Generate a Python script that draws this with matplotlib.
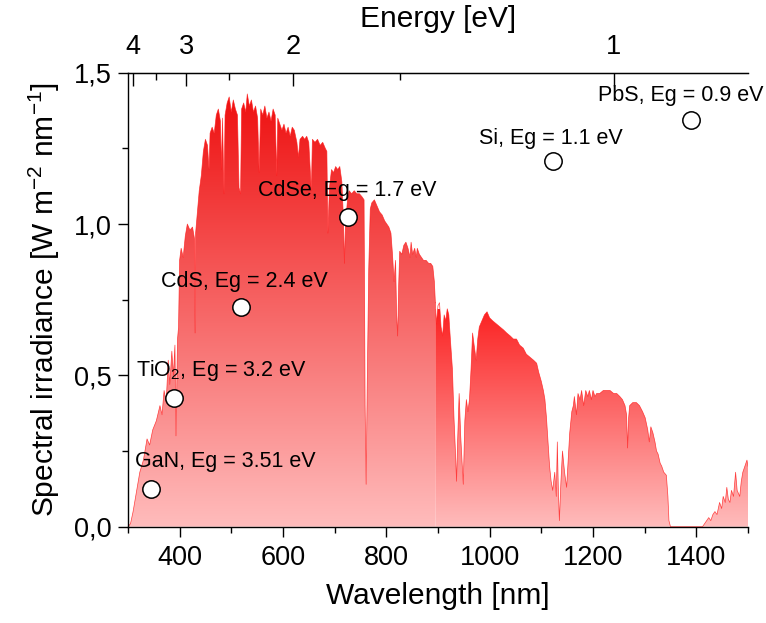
import numpy as np
import matplotlib
matplotlib.use("Agg")
import matplotlib.pyplot as plt
from matplotlib.colors import LinearSegmentedColormap
from matplotlib.patches import Polygon
from matplotlib.ticker import MultipleLocator, FuncFormatter

plt.rcParams['font.family'] = ['Liberation Sans', 'DejaVu Sans']
plt.rcParams['mathtext.default'] = 'regular'

# solar spectrum, UV/visible part (nm, W m-2 nm-1)
vis_nm = [300, 305, 310, 317, 323, 330, 337, 342, 348, 355, 362, 366, 370, 374, 378,
          381, 385, 388, 391, 393, 396, 398, 400, 403, 407, 411, 415, 420, 425, 429,
          430, 431, 435, 438, 442, 446, 450, 454, 457, 459, 463, 467, 471, 475, 479,
          481, 483, 486, 488, 492, 496, 500, 504, 508, 512, 515, 518, 520, 524, 528,
          531, 535, 539, 543, 547, 551, 554, 557, 561, 565, 569, 573, 577, 581, 585,
          588, 590, 594, 598, 602, 606, 610, 614, 618, 622, 627, 630, 633, 638, 642,
          646, 650, 655, 657, 662, 667, 672, 677, 682, 685, 687, 690, 694, 698, 702,
          706, 710, 714, 717, 719, 721, 725, 728, 733, 738, 743, 748, 753, 757, 759,
          761, 763, 766, 769, 772, 777, 782, 787, 792, 797, 801, 805, 809, 812, 815,
          818, 820, 822, 824, 826, 830, 834, 838, 842, 846, 848, 851, 855, 858, 860,
          864, 868, 872, 877, 882, 886, 890, 893, 895]
vis_irr = [0.0, 0.01, 0.05, 0.12, 0.18, 0.22, 0.29, 0.27, 0.32, 0.35, 0.40, 0.37, 0.45, 0.41, 0.55,
           0.47, 0.58, 0.50, 0.60, 0.30, 0.62, 0.66, 0.88, 0.92, 0.89, 0.96, 1.00, 0.98, 0.99, 0.95,
           0.64, 0.97, 1.05, 1.11, 1.16, 1.24, 1.28, 1.26, 1.18, 1.30, 1.32, 1.30, 1.36, 1.38, 1.34,
           1.18, 1.35, 1.10, 1.36, 1.40, 1.42, 1.37, 1.41, 1.38, 1.36, 1.12, 1.10, 1.38, 1.40, 1.37,
           1.43, 1.39, 1.41, 1.37, 1.39, 1.35, 1.17, 1.38, 1.36, 1.39, 1.35, 1.37, 1.34, 1.38, 1.36,
           1.16, 1.35, 1.33, 1.31, 1.33, 1.30, 1.32, 1.29, 1.32, 1.31, 1.27, 1.22, 1.28, 1.29, 1.28,
           1.29, 1.27, 1.11, 1.28, 1.27, 1.28, 1.26, 1.27, 1.25, 1.24, 0.97, 1.12, 1.18, 1.17, 1.19,
           1.18, 1.19, 1.14, 1.02, 0.87, 1.00, 1.08, 1.11, 1.10, 1.11, 1.10, 1.10, 1.09, 1.08, 0.40,
           0.14, 0.45, 0.85, 1.05, 1.07, 1.08, 1.06, 1.04, 1.03, 1.01, 1.00, 0.99, 0.97, 0.90, 0.81,
           0.88, 0.70, 0.63, 0.80, 0.91, 0.90, 0.93, 0.94, 0.92, 0.89, 0.94, 0.90, 0.92, 0.89, 0.92,
           0.90, 0.89, 0.88, 0.88, 0.87, 0.87, 0.86, 0.81, 0.74]

# near infrared part
nir_nm = [895, 897, 900, 903, 906, 909, 912, 915, 918, 921, 924, 928, 931, 934, 936,
          938, 941, 944, 947, 949, 952, 955, 958, 961, 964, 967, 970, 974, 977, 980,
          985, 990, 995, 1000, 1006, 1013, 1020, 1027, 1033, 1040, 1046, 1052, 1058, 1065, 1071,
          1078, 1085, 1091, 1095, 1100, 1104, 1107, 1110, 1113, 1116, 1119, 1122, 1126, 1129, 1131,
          1133, 1135, 1138, 1141, 1145, 1149, 1152, 1155, 1159, 1162, 1164, 1168, 1171, 1175, 1178,
          1182, 1186, 1190, 1193, 1197, 1200, 1204, 1207, 1213, 1220, 1226, 1233, 1240, 1246, 1252,
          1257, 1262, 1265, 1267, 1269, 1271, 1277, 1284, 1290, 1296, 1301, 1306, 1309, 1312, 1316,
          1320, 1323, 1326, 1330, 1333, 1337, 1342, 1345, 1347, 1350, 1412, 1416, 1420, 1424, 1428,
          1432, 1436, 1440, 1445, 1449, 1452, 1456, 1459, 1462, 1465, 1468, 1472, 1476, 1479, 1484,
          1487, 1490, 1494, 1498, 1500]
nir_irr = [0.74, 0.67, 0.73, 0.74, 0.66, 0.63, 0.70, 0.68, 0.72, 0.70, 0.62, 0.52, 0.36, 0.24, 0.15,
           0.28, 0.44, 0.30, 0.20, 0.14, 0.35, 0.42, 0.38, 0.42, 0.52, 0.64, 0.60, 0.55, 0.62, 0.66,
           0.68, 0.70, 0.71, 0.69, 0.68, 0.67, 0.66, 0.65, 0.64, 0.63, 0.62, 0.62, 0.60, 0.59, 0.57,
           0.56, 0.55, 0.54, 0.51, 0.48, 0.45, 0.42, 0.36, 0.28, 0.20, 0.15, 0.12, 0.18, 0.10, 0.28,
           0.12, 0.02, 0.15, 0.25, 0.18, 0.13, 0.22, 0.31, 0.38, 0.40, 0.43, 0.37, 0.44, 0.42, 0.45,
           0.40, 0.45, 0.43, 0.45, 0.42, 0.45, 0.43, 0.44, 0.44, 0.45, 0.45, 0.45, 0.44, 0.44, 0.43,
           0.42, 0.40, 0.37, 0.26, 0.36, 0.40, 0.41, 0.41, 0.40, 0.38, 0.36, 0.32, 0.28, 0.33, 0.31,
           0.28, 0.25, 0.24, 0.21, 0.20, 0.18, 0.17, 0.10, 0.02, 0.0, 0.0, 0.01, 0.02, 0.03, 0.02,
           0.04, 0.05, 0.04, 0.08, 0.06, 0.10, 0.08, 0.13, 0.09, 0.08, 0.12, 0.10, 0.18, 0.12, 0.10,
           0.15, 0.18, 0.20, 0.22, 0.20]

# band gaps of the semiconductors
materials = ['GaN', 'TiO$_2$', 'CdS', 'CdSe', 'Si', 'PbS']
gap_ev = ['3.51', '3.2', '2.4', '1.7', '1.1', '0.9']
marker_nm = [345, 389, 519, 726, 1122, 1389]
marker_irr = [0.125, 0.425, 0.726, 1.023, 1.208, 1.345]
label_nm = [314, 316, 364, 552, 980, 1209]
label_irr = [0.217, 0.517, 0.811, 1.112, 1.284, 1.426]

energy_major = [4, 3, 2, 1]
energy_minor = [3.5, 2.5, 1.5]


def nm_to_ev(x):
    x = np.asarray(x, dtype=float)
    with np.errstate(divide='ignore', invalid='ignore'):
        return 1240.0 / x


def gradient_fill(ax, wl, irr, top, color_top, color_bottom='#ffbcbc'):
    cmap = LinearSegmentedColormap.from_list('g', [color_bottom, color_top])
    verts = np.column_stack([np.r_[wl[0], wl, wl[-1]], np.r_[0, irr, 0]])
    patch = Polygon(verts, closed=True, facecolor='none', edgecolor='none')
    ax.add_patch(patch)
    grad = np.linspace(0, 1, 256).reshape(-1, 1)
    im = ax.imshow(grad, extent=[wl[0], wl[-1], 0, top], origin='lower',
                   cmap=cmap, aspect='auto', zorder=1)
    im.set_clip_path(patch)
    ax.plot(wl, irr, color='#ff1a1a', lw=0.5, alpha=0.8, zorder=2)


fig = plt.figure(figsize=(7.66, 6.23), dpi=100)
ax = fig.add_axes([0.167, 0.1546, 0.8095, 0.7287])

gradient_fill(ax, vis_nm, vis_irr, 1.43, '#ee1010')
gradient_fill(ax, nir_nm, nir_irr, 0.72, '#fb2222')

ax.plot(marker_nm, marker_irr, 'o', ms=12.5, mfc='white', mec='black', mew=1.1, zorder=5)
for name, eg, x, y in zip(materials, gap_ev, label_nm, label_irr):
    ax.text(x, y, f'{name}, Eg = {eg} eV', fontsize=15.5, va='center', ha='left', zorder=6)

ax.set_xlim(300, 1500)
ax.set_ylim(0, 1.5)
ax.xaxis.set_major_locator(MultipleLocator(200))
ax.xaxis.set_minor_locator(MultipleLocator(100))
ax.yaxis.set_major_locator(MultipleLocator(0.5))
ax.yaxis.set_minor_locator(MultipleLocator(0.25))
ax.yaxis.set_major_formatter(FuncFormatter(lambda v, p: f'{v:.1f}'.replace('.', ',')))
ax.spines['right'].set_visible(False)
for s in ax.spines.values():
    s.set_linewidth(1.0)
ax.tick_params(which='both', direction='out', width=1.0, labelsize=19.5)
ax.tick_params(which='major', length=7)
ax.tick_params(which='minor', length=4)
ax.tick_params(axis='x', pad=6)
ax.tick_params(axis='y', pad=5)
ax.set_xlabel('Wavelength [nm]', fontsize=21.5, labelpad=8)
ax.set_ylabel('Spectral irradiance [W m$^{-2}$ nm$^{-1}$]', fontsize=21.5, labelpad=8)

secax = ax.secondary_xaxis('top', functions=(nm_to_ev, nm_to_ev))
secax.set_xticks(energy_major)
secax.set_xticks(energy_minor, minor=True)
secax.set_xticklabels([str(e) for e in energy_major])
secax.tick_params(which='both', direction='in', width=1.0, labelsize=19.5, pad=9)
secax.tick_params(which='major', length=9)
secax.tick_params(which='minor', length=5)
secax.set_xlabel('Energy [eV]', fontsize=21.5, labelpad=5)

fig.savefig('out.png', dpi=100)
